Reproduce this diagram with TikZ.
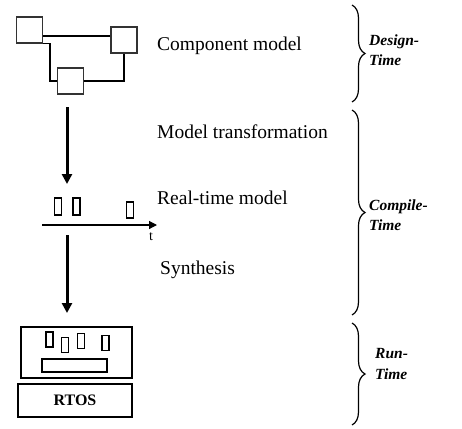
\documentclass[tikz,border=0pt]{standalone}
\usepackage{fontspec}
\setmainfont{Liberation Serif}
\usetikzlibrary{arrows.meta,decorations.pathreplacing}

\begin{document}
\begin{tikzpicture}
	[x=1pt, y=-1pt,
		comp/.style		={rectangle
									, draw=black!80
									, line width=1.1pt
									, minimum width=26pt
									, minimum height=26pt
									, inner sep=0pt
									},
		task/.style		={rectangle
									, draw
									, line width=1.1pt
									, minimum width=7pt
									, minimum height=15pt
									, inner sep=0pt
									},
		layer/.style		={rectangle
									, draw
									, line width=1.1pt
									, inner sep=0pt
									},
		caption/.style	={anchor=west
									, inner sep=0pt
									, font=\fontsize{19.5}{22}\selectfont
									},
		phase/.style		={anchor=west
									, align=left
									, inner sep=0pt
									, font=\fontsize{15.5}{20.5}\selectfont\bfseries\itshape
									},
		wire/.style		 	={draw
									, line width=1.1pt
									},
		flow/.style		 	={draw
									, line width=3pt
									, -{Triangle[width=10pt,length=10pt]}
									},
		span/.style		 	={draw
									, line width=1.2pt
									, decorate
									, decoration={brace, amplitude=13pt}
									}
	]
\useasboundingbox (0,0) rectangle (462,428);

% component model
\node [comp] (compA) at (29.5,30)	{};
\node [comp] (compB) at (124,40)	{};
\node [comp] (compC) at (70.5,81)	{};
\path [wire] (compA.east |- 0,36) -- (compB.west |- 0,36);
\path [wire] (compA.south east) -| ([xshift=-7pt]compC.west) -- (compC.west);
\path [wire] (compC.east) -| (compB.south);

% real-time model on a time axis
\coordinate (axis start)	at (42,225);
\coordinate (axis end)		at (157,225);
\path [draw, line width=1.2pt, -{Triangle[width=8pt,length=8pt]}]
	(axis start) -- (axis end);
\node [font=\fontsize{14}{16}\selectfont, inner sep=0pt] (tlabel) at (151,237) {t};
\node [task, minimum height=17pt] (pulse1) at (58,206.5)	{};
\node [task, minimum height=17pt] (pulse2) at (76.5,206.5)	{};
\node [task, minimum height=16pt] (pulse3) at (130,210)	{};

% target: application on top of the RTOS
\node [layer, minimum width=111pt, minimum height=51pt] (app) at (76.5,352.5) {};
\node [layer, minimum width=114pt, minimum height=33pt,
	font=\fontsize{16}{18}\selectfont\bfseries] (rtos) at (75,400.5) {RTOS};
\node [task] (job1) at (49.5,339.5)	{};
\node [task] (job2) at (65,345)		{};
\node [task] (job3) at (81,341)		{};
\node [task] (job4) at (105.5,343)	{};
\node [layer, minimum width=65pt, minimum height=13pt] (kernel) at (74.5,365.5) {};

% steps
\coordinate (step1 top)	at (67,107);
\coordinate (step1 end)	at (67,184);
\coordinate (step2 top)	at (67,235);
\coordinate (step2 end)	at (67,313);
\path [flow] (step1 top) -- (step1 end);
\path [flow] (step2 top) -- (step2 end);

\node [caption] (cm)		at (157,46)		{Component model};
\node [caption] (mt)		at (157,132)	{Model transformation};
\node [caption] (rtm)		at (157,198)	{Real-time model};
\node [caption] (syn)		at (160,270)	{Synthesis};

% phases
\path [span] (352,5)		-- (352,102);
\path [span] (352,110)	-- (352,315);
\path [span] (352,323)	-- (352,425);
\node [phase] (design)	at (369,50)		{Design-\\Time};
\node [phase] (compile)	at (369,215)	{Compile-\\Time};
\node [phase] (run)			at (375,364)	{Run-\\Time};
\end{tikzpicture}
\end{document}
